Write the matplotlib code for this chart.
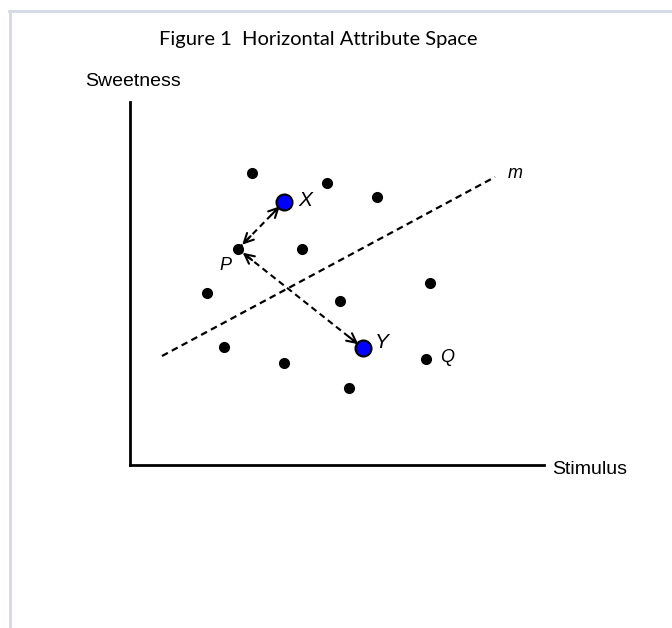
import matplotlib.pyplot as plt
from matplotlib.lines import Line2D
import numpy as np

# data (x = stimulus, y = sweetness; arbitrary units)
dots_x = [122, 197, 247, 172, 108, 77, 210, 300, 94, 154, 296, 219]
dots_y = [292, 282, 268, 216, 216, 172, 164, 182, 118, 102, 106, 77]
brand_x = [154, 233]
brand_y = [263, 117]
labels = ["X", "Y", "P", "Q", "m"]
label_x = [168, 245, 89, 310, 378]
label_y = [265, 123, 200, 108, 292]
line_m_x = [32, 365]
line_m_y = [109, 288]
# ideal point P and the two arrows from it
p_pt = (108, 216)
arrow_ends = [(154, 263), (233, 117)]

plt.rcParams["font.family"] = ["Liberation Sans", "DejaVu Sans"]

fig = plt.figure(figsize=(6.72, 6.28), dpi=100)
W, H = 672, 628

# frame lines of the page
fig.add_artist(Line2D([9 / W, 1], [1 - 11 / H, 1 - 11 / H], color="#d3d9e6", lw=2))
fig.add_artist(Line2D([10 / W, 10 / W], [0, 1 - 11 / H], color="#d3d9e6", lw=2))

ax = fig.add_axes([130 / W, (H - 465) / H, 414 / W, 363 / H])
ax.set_xlim(0, 414)
ax.set_ylim(0, 363)
ax.set_xticks([])
ax.set_yticks([])
for s in ["top", "right"]:
    ax.spines[s].set_visible(False)
for s in ["left", "bottom"]:
    ax.spines[s].set_linewidth(2)

ax.plot(line_m_x, line_m_y, ls=(0, (3, 2)), color="black", lw=1.6)

# dashed arrows from P with open heads at both ends
for ex, ey in arrow_ends:
    px, py = p_pt
    ax.plot([px, ex], [py, ey], ls=(0, (3, 2)), color="black", lw=1.5)
    d = np.array([ex - px, ey - py], dtype=float)
    u = d / np.hypot(*d)
    for (sx, sy), sgn in [((px, py), 1), ((ex, ey), -1)]:
        tip = np.array([sx, sy]) + sgn * u * 6
        tail = tip + sgn * u * 12
        ax.annotate("", xy=tip, xytext=tail,
                    arrowprops=dict(arrowstyle="->", lw=1.5, color="black",
                                    mutation_scale=17, shrinkA=0, shrinkB=0))

ax.plot(dots_x, dots_y, "o", color="black", ms=7, zorder=3)
ax.plot(brand_x, brand_y, "o", color="#0000ff", mec="black", mew=1.5, ms=11.5, zorder=4)

sizes = [15, 15, 13, 13, 13]
for t, x, y, fs in zip(labels, label_x, label_y, sizes):
    ax.text(x, y, t, fontsize=fs, style="italic", ha="left", va="center", clip_on=False)

fig.text(318 / W, 1 - 39 / H, "Figure 1  Horizontal Attribute Space", fontsize=14.5,
         family=["Lato", "DejaVu Sans"], ha="center", va="center")
fig.text(85 / W, 1 - 82 / H, "Sweetness", fontsize=14, ha="left", va="center")
fig.text(552 / W, 1 - 470 / H, "Stimulus", fontsize=14, ha="left", va="center")

fig.savefig("out.png", dpi=100)
